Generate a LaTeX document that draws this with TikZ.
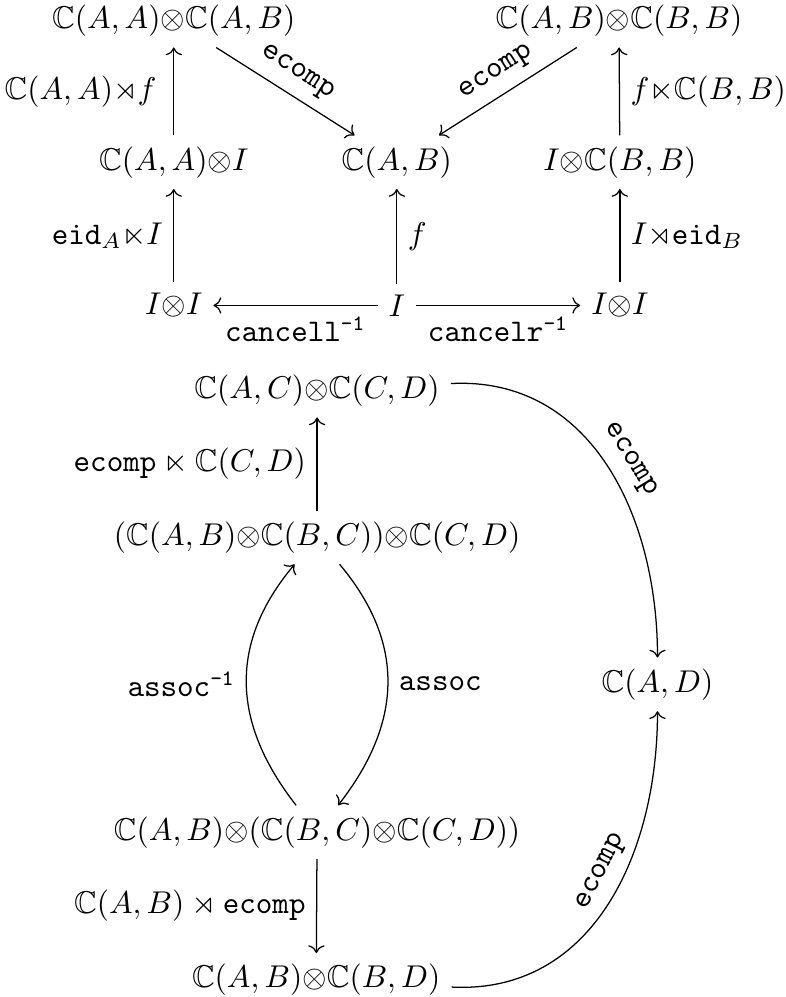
\documentclass[tikz,border=0pt]{standalone}
\usepackage{amsmath}
\usepackage{amssymb}
\usetikzlibrary{arrows.meta}
\newcommand{\catC}{\mathbb{C}}
\newcommand{\tens}{{\otimes}}
\newcommand{\ttinv}{^{\text{\ttfamily -1}}}

\begin{document}
\begin{tikzpicture}[
  x=1cm,
  y=1cm,
  every node/.style={font=\normalsize},
  arr/.style={-{To}, line width=0.4pt}
]
  % ---- page size, the same for both squares ---------------------------
  \useasboundingbox (0,0) rectangle (8.77,11.13);

  % ---- unit laws: the objects -----------------------------------------
  \node (aaab) at (1.94,10.90) {$\catC(A,A)\tens\catC(A,B)$};
  \node (abbb) at (6.91,10.90) {$\catC(A,B)\tens\catC(B,B)$};
  \node (aai)  at (1.94,9.32)  {$\catC(A,A)\tens I$};
  \node (ab)   at (4.43,9.32)  {$\catC(A,B)$};
  \node (ibb)  at (6.92,9.32)  {$I\tens\catC(B,B)$};
  \node (iil)  at (1.94,7.72)  {$I\tens I$};
  \node (i)    at (4.43,7.72)  {$I$};
  \node (iir)  at (6.92,7.72)  {$I\tens I$};

  % ---- unit laws: the arrows ------------------------------------------
  \draw[arr] (aai) -- node[left, xshift=-2pt] {$\catC(A,A){\rtimes}f$} (aaab);
  \draw[arr] (ibb) -- node[right] {$f{\ltimes}\catC(B,B)$} (abbb);
  \draw[arr] (aaab) -- node[above, sloped] {$\mathtt{ecomp}$} (ab);
  \draw[arr] (abbb) -- node[above, sloped] {$\mathtt{ecomp}$} (ab);
  \draw[arr] (iil) -- node[left] {$\mathtt{eid}_A{\ltimes}I$} (aai);
  \draw[arr] (i) -- node[right] {$f$} (ab);
  \draw[arr] (iir) -- node[right] {$I{\rtimes}\mathtt{eid}_B$} (ibb);
  \draw[arr] (i) -- node[below] {$\mathtt{cancell}\ttinv$} (iil);
  \draw[arr] (i) -- node[below] {$\mathtt{cancelr}\ttinv$} (iir);

  % ---- associativity: the objects -------------------------------------
  \node (acd)   at (3.54,6.77) {$\catC(A,C)\tens\catC(C,D)$};
  \node (abccd) at (3.54,5.13) {$(\catC(A,B)\tens\catC(B,C))\tens\catC(C,D)$};
  \node (ad)    at (7.34,3.49) {$\catC(A,D)$};
  \node (abbcd) at (3.54,1.84) {$\catC(A,B)\tens(\catC(B,C)\tens\catC(C,D))$};
  \node (abd)   at (3.53,0.19) {$\catC(A,B)\tens\catC(B,D)$};

  % ---- associativity: the arrows --------------------------------------
  \draw[arr] (abccd) -- node[left] {$\mathtt{ecomp}\ltimes\catC(C,D)$} (acd);
  \draw[arr] (abbcd) to[out=128, in=-130, looseness=1.1]
    node[left] {$\mathtt{assoc}\ttinv$} (abccd);
  \draw[arr] (abccd) to[out=-50, in=52, looseness=1.1]
    node[right] {$\mathtt{assoc}$} (abbcd);
  \draw[arr] (abbcd) -- node[left] {$\catC(A,B)\rtimes\mathtt{ecomp}$} (abd);
  \draw[arr] (acd) to[out=3, in=90, looseness=1.05]
    node[pos=0.52, above, sloped] {$\mathtt{ecomp}$} (ad);
  \draw[arr] (abd) to[out=-3, in=-90, looseness=1.05]
    node[pos=0.57, above, sloped] {$\mathtt{ecomp}$} (ad);
\end{tikzpicture}
\end{document}
